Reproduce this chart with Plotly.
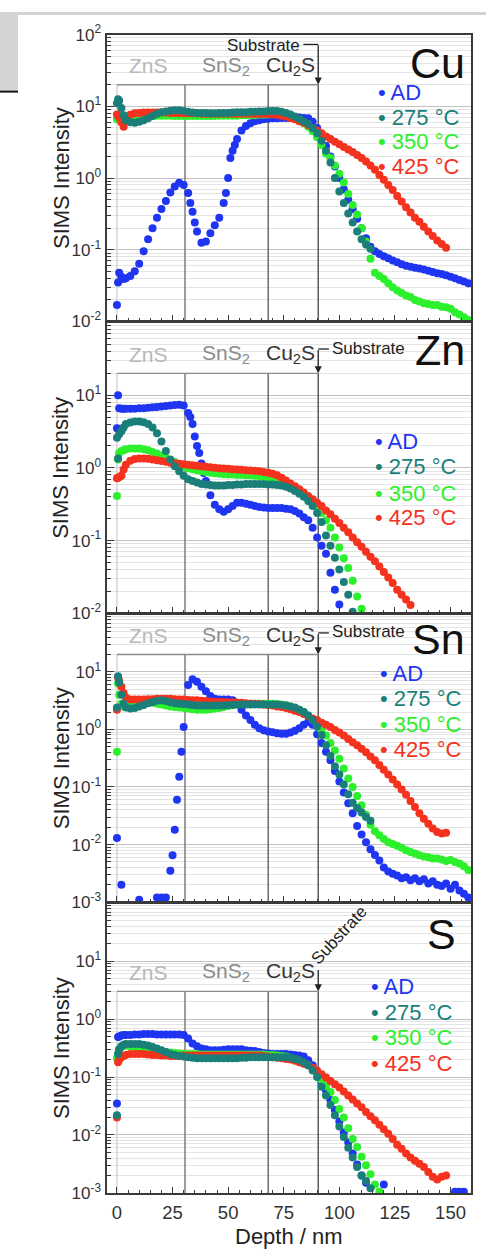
import math
import plotly.graph_objects as go

W, H = 486, 1256
N = None

# ---------------- data ----------------
depth = [0, 0.5, 1, 2, 3, 4,
         6, 8, 10, 12, 14, 16, 18, 20, 22, 24,
         26, 28, 30, 32, 34, 36, 38, 40, 42, 44,
         46, 48, 50, 52, 54, 56, 58, 60, 62, 64,
         66, 68, 70, 72, 74, 76, 78, 80, 82, 84,
         86, 88, 90, 92, 94, 96, 98, 100, 102, 104,
         106, 108, 110, 112, 114, 116, 118, 120, 122, 124,
         126, 128, 130, 132, 134, 136, 138, 140, 142, 144,
         146, 148, 150, 152, 154, 156, 158]

# ---- Cu ----
cu_ad = [0.017, 0.035, 0.048, 0.042, 0.039, 0.040,
         0.043, 0.050, 0.064, 0.095, 0.14, 0.20, 0.28, 0.37, 0.48, 0.63,
         0.76, 0.86, 0.80, 0.62, 0.34, 0.18, 0.125, 0.13, 0.17, 0.22,
         0.28, 0.45, 1.0, 2.4, 3.5, 4.6, 5.3, 5.8, 6.2, 6.4,
         6.6, 6.7, 6.8, 6.8, 6.9, 6.9, 6.9, 6.9, 7.0, 6.9,
         6.8, 6.1, 5.0, 3.8, 2.8, 2.0, 1.45, 1.0, 0.7, 0.5,
         0.37, 0.27, 0.2, 0.145, 0.11, 0.095, 0.087, 0.081, 0.076, 0.071,
         0.067, 0.063, 0.060, 0.058, 0.056, 0.055, 0.053, 0.051, 0.049, 0.047,
         0.046, 0.044, 0.042, 0.040, 0.038, 0.036, 0.034]
cu_ad_extra_depth = [33, 35, 49, 51, 53]
cu_ad_extra = [0.45, 0.24, 0.62, 1.9, 2.9]
cu_275 = [11, 12.5, 12, 9.5, 7.5, 6.4,
          6.0, 5.9, 6.1, 6.4, 6.8, 7.3, 7.9, 8.3, 8.5, 8.7,
          8.8, 8.8, 8.6, 8.4, 8.2, 8.1, 8.1, 8.1, 8.0, 8.0,
          8.1, 8.1, 8.1, 8.2, 8.3, 8.3, 8.3, 8.4, 8.4, 8.5,
          8.5, 8.6, 8.6, 8.6, 8.4, 8.1, 7.7, 7.2, 6.7, 6.2,
          5.7, 5.0, 4.2, 3.3, 2.4, 1.65, 1.0, 0.65, 0.45, 0.32,
          0.24, 0.18, 0.14, 0.118, 0.103, N, N, N, N, N,
          N, N, N, N, N, N, N, N, N, N,
          N, N, N, N, N, N, N]
cu_350 = [6.6, 7.0, 7.2, 7.0, 6.8, 6.8,
          6.9, 7.0, 7.1, 7.2, 7.3, 7.4, 7.4, 7.4, 7.4, 7.4,
          7.3, 7.3, 7.3, 7.3, 7.3, 7.3, 7.3, 7.3, 7.3, 7.3,
          7.4, 7.4, 7.4, 7.4, 7.4, 7.5, 7.5, 7.5, 7.5, 7.6,
          7.6, 7.7, 7.8, 7.8, 7.7, 7.5, 7.2, 6.8, 6.3, 5.8,
          5.2, 4.5, 3.7, 2.9, 2.2, 1.9, 1.5, 1.15, 0.87, 0.6,
          0.42, 0.31, 0.2, 0.13, 0.075, 0.048, 0.043, 0.039, 0.034, 0.030,
          0.027, 0.025, 0.023, 0.022, 0.020, 0.019, 0.018, 0.0175, 0.017, 0.017,
          0.016, 0.0158, 0.015, 0.0135, 0.0125, 0.0115, 0.0105]
cu_425 = [7.7, 7.4, 7.0, 6.0, 5.2, 6.5,
          7.6, 8.0, 8.1, 8.2, 8.2, 8.2, 8.2, 8.2, 8.2, 8.1,
          8.1, 8.1, 8.0, 8.0, 8.0, 8.0, 7.9, 7.9, 7.9, 7.9,
          7.9, 7.9, 7.9, 7.9, 7.9, 7.9, 7.9, 7.9, 7.8, 7.8,
          7.8, 7.8, 7.7, 7.6, 7.4, 7.2, 6.9, 6.6, 6.2, 5.9,
          5.5, 5.0, 4.6, 4.2, 3.8, 3.5, 3.2, 2.95, 2.7, 2.5,
          2.3, 2.1, 1.9, 1.7, 1.5, 1.3, 1.1, 0.95, 0.8, 0.68,
          0.56, 0.47, 0.39, 0.33, 0.28, 0.245, 0.21, 0.18, 0.155, 0.135,
          0.12, 0.107, N, N, N, N, N]

# ---- Zn ----
zn_ad = [3.5, 10, 6.6, 6.5, 6.5, 6.5,
         6.5, 6.5, 6.6, 6.6, 6.7, 6.8, 6.9, 7.0, 7.1, 7.2,
         7.3, 7.4, 7.2, 5.7, 4.0, 2.0, 1.15, 0.66, 0.42, 0.31,
         0.27, 0.25, 0.27, 0.30, 0.33, 0.33, 0.32, 0.31, 0.30, 0.29,
         0.285, 0.28, 0.28, 0.28, 0.28, 0.275, 0.27, 0.255, 0.235, 0.21,
         0.19, 0.15, 0.11, 0.085, 0.066, 0.036, 0.021, 0.0132, N, N,
         N, N, N, N, N, N, N, N, N, N,
         N, N, N, N, N, N, N, N, N, N,
         N, N, N, N, N, N, N]
zn_ad_extra_depth = [33, 35, 37, 39]
zn_ad_extra = [5.0, 2.7, 1.6, 0.85]
zn_275 = [2.6, 1.35, 2.9, 3.2, 3.6, 4.0,
          4.2, 4.35, 4.35, 4.25, 4.0, 3.6, 3.0, 2.3, 1.7, 1.3,
          1.05, 0.9, 0.78, 0.7, 0.66, 0.63, 0.6, 0.59, 0.58, 0.57,
          0.57, 0.57, 0.58, 0.58, 0.59, 0.59, 0.6, 0.6, 0.6, 0.6,
          0.6, 0.59, 0.59, 0.58, 0.57, 0.55, 0.52, 0.48, 0.44, 0.40,
          0.35, 0.30, 0.24, 0.18, 0.117, 0.085, 0.058, 0.04, 0.027, 0.018,
          0.0105, N, N, N, N, N, N, N, N, N,
          N, N, N, N, N, N, N, N, N, N,
          N, N, N, N, N, N, N]
zn_350 = [0.41, 1.3, 1.6, 1.7, 1.75, 1.8,
          1.85, 1.85, 1.85, 1.8, 1.75, 1.65, 1.57, 1.48, 1.38, 1.28,
          1.2, 1.12, 1.04, 0.99, 0.96, 0.93, 0.9, 0.88, 0.86, 0.84,
          0.83, 0.82, 0.81, 0.81, 0.8, 0.8, 0.79, 0.79, 0.78, 0.77,
          0.76, 0.74, 0.72, 0.69, 0.65, 0.6, 0.56, 0.51, 0.46, 0.42,
          0.38, 0.33, 0.28, 0.24, 0.19, 0.15, 0.11, 0.08, 0.057, 0.042,
          0.028, 0.017, 0.0115, N, N, N, N, N, N, N,
          N, N, N, N, N, N, N, N, N, N,
          N, N, N, N, N, N, N]
zn_425 = [0.72, 0.73, 0.75, 0.78, 0.95, 1.1,
          1.25, 1.32, 1.35, 1.35, 1.33, 1.3, 1.27, 1.24, 1.21, 1.18,
          1.16, 1.14, 1.12, 1.1, 1.09, 1.07, 1.05, 1.04, 1.02, 1.0,
          0.99, 0.98, 0.97, 0.96, 0.95, 0.94, 0.93, 0.92, 0.91, 0.9,
          0.88, 0.86, 0.83, 0.79, 0.73, 0.67, 0.61, 0.56, 0.51, 0.46,
          0.41, 0.37, 0.33, 0.3, 0.26, 0.23, 0.2, 0.175, 0.15, 0.13,
          0.11, 0.095, 0.082, 0.07, 0.06, 0.052, 0.044, 0.037, 0.031, 0.026,
          0.021, 0.018, 0.0155, 0.013, N, N, N, N, N, N,
          N, N, N, N, N, N, N]

# ---- Sn ----
sn_ad = [0.013, N, N, 0.002, N, N,
         N, N, 0.0011, N, N, N, 0.0012, 0.0012, 0.0012, 0.0035,
         0.018, 0.15, 1.1, 5.9, 7.4, 6.7, 5.5, 4.6, 3.8, 3.4,
         3.3, 3.3, 3.3, 3.2, 2.9, 2.2, 1.75, 1.45, 1.2, 1.05,
         0.97, 0.92, 0.89, 0.86, 0.84, 0.84, 0.88, 0.95, 1.05, 1.2,
         1.35, 1.2, 0.82, 0.58, 0.41, 0.29, 0.19, 0.125, 0.08, 0.052,
         0.035, 0.021, 0.015, 0.011, 0.0083, 0.0066, 0.0053, 0.004, 0.0034, 0.0031,
         0.0029, 0.0026, 0.0027, 0.0024, 0.0026, 0.0023, 0.0025, 0.0021, 0.0023, 0.002,
         0.0019, 0.0021, 0.0017, 0.002, 0.0016, 0.0014, 0.0012]
sn_ad_extra_depth = [25, 27, 29, 31]
sn_ad_extra = [0.0065, 0.06, 0.41, 3.0]
sn_275 = [2.4, 8.4, 6.5, 4.0, 2.8, 2.4,
          2.3, 2.35, 2.5, 2.65, 2.85, 3.0, 3.15, 3.2, 3.1, 2.95,
          2.85, 2.8, 2.75, 2.7, 2.65, 2.6, 2.6, 2.6, 2.6, 2.6,
          2.6, 2.6, 2.65, 2.65, 2.7, 2.7, 2.7, 2.7, 2.7, 2.7,
          2.7, 2.7, 2.7, 2.7, 2.65, 2.6, 2.5, 2.4, 2.2, 2.0,
          1.75, 1.45, 1.12, 0.8, 0.53, 0.35, 0.23, 0.165, 0.11, 0.075,
          0.053, 0.043, 0.036, 0.03, 0.026, N, N, N, N, N,
          N, N, N, N, N, N, N, N, N, N,
          N, N, N, N, N, N, N]
sn_350 = [0.41, 6.3, 4.0, 2.8, 2.5, 2.5,
          2.5, 2.6, 2.7, 2.8, 2.9, 2.9, 2.8, 2.7, 2.6, 2.5,
          2.45, 2.4, 2.35, 2.3, 2.25, 2.2, 2.2, 2.2, 2.25, 2.3,
          2.35, 2.45, 2.55, 2.65, 2.7, 2.75, 2.8, 2.8, 2.8, 2.8,
          2.8, 2.8, 2.8, 2.75, 2.7, 2.6, 2.5, 2.35, 2.2, 2.0,
          1.75, 1.5, 1.2, 0.95, 0.78, 0.58, 0.43, 0.31, 0.21, 0.14,
          0.1, 0.07, 0.048, 0.033, 0.022, 0.017, 0.0145, 0.0125, 0.011, 0.0102,
          0.0095, 0.0088, 0.008, 0.0074, 0.007, 0.0065, 0.0062, 0.006, 0.0057, 0.0057,
          0.0055, 0.0052, 0.0054, 0.005, 0.0047, 0.0042, 0.0036]
sn_425 = [2.2, 8.0, 7.0, 5.5, 4.3, 3.6,
          3.3, 3.3, 3.3, 3.3, 3.35, 3.35, 3.4, 3.4, 3.4, 3.4,
          3.35, 3.3, 3.3, 3.25, 3.2, 3.2, 3.15, 3.1, 3.05, 3.0,
          3.0, 3.0, 2.95, 2.95, 2.9, 2.9, 2.85, 2.8, 2.8, 2.75,
          2.7, 2.65, 2.6, 2.5, 2.45, 2.35, 2.25, 2.1, 2.0, 1.85,
          1.7, 1.55, 1.45, 1.3, 1.2, 1.1, 0.98, 0.88, 0.78, 0.68,
          0.6, 0.53, 0.46, 0.4, 0.34, 0.29, 0.24, 0.2, 0.165, 0.135,
          0.11, 0.09, 0.073, 0.057, 0.045, 0.035, 0.028, 0.023, 0.019, 0.0165,
          0.0155, 0.016, N, N, N, N, N]

# ---- S ----
s_ad = [0.035, 0.49, 0.5, 0.52, 0.53, 0.53,
        0.53, 0.54, 0.54, 0.55, 0.55, 0.55, 0.54, 0.54, 0.54, 0.54,
        0.54, 0.54, 0.53, 0.46, 0.38, 0.34, 0.31, 0.3, 0.29, 0.29,
        0.29, 0.295, 0.3, 0.3, 0.3, 0.3, 0.29, 0.285, 0.28, 0.27,
        0.26, 0.255, 0.25, 0.25, 0.25, 0.25, 0.245, 0.24, 0.235, 0.225,
        0.195, 0.16, 0.12, 0.083, 0.058, 0.04, 0.027, 0.017, 0.011, 0.0074,
        0.0048, 0.0031, 0.002, 0.0015, N, N, N, 0.0014, N, N,
        N, N, N, N, N, N, N, N, N, N,
        N, N, N, 0.00105, 0.00105, 0.00105, N]
s_275 = [0.022, 0.25, 0.3, 0.34, 0.36, 0.37,
         0.37, 0.37, 0.37, 0.36, 0.35, 0.33, 0.31, 0.29, 0.27, 0.25,
         0.24, 0.23, 0.225, 0.22, 0.215, 0.21, 0.21, 0.21, 0.21, 0.21,
         0.21, 0.21, 0.21, 0.21, 0.21, 0.215, 0.215, 0.22, 0.22, 0.22,
         0.22, 0.22, 0.22, 0.22, 0.22, 0.22, 0.215, 0.205, 0.195, 0.18,
         0.16, 0.13, 0.1, 0.068, 0.048, 0.033, 0.022, 0.014, 0.0092, 0.006,
         0.0041, 0.0028, 0.002, 0.0016, 0.0012, N, N, N, N, N,
         N, N, N, N, N, N, N, N, N, N,
         N, N, N, N, N, N, N]
s_350 = [0.21, 0.25, 0.3, 0.33, 0.35, 0.35,
         0.34, 0.33, 0.32, 0.31, 0.3, 0.29, 0.28, 0.275, 0.27, 0.265,
         0.26, 0.255, 0.25, 0.25, 0.25, 0.25, 0.245, 0.245, 0.245, 0.245,
         0.245, 0.245, 0.245, 0.245, 0.245, 0.245, 0.245, 0.245, 0.245, 0.245,
         0.245, 0.24, 0.24, 0.235, 0.23, 0.225, 0.215, 0.205, 0.19, 0.175,
         0.16, 0.14, 0.12, 0.09, 0.07, 0.055, 0.04, 0.028, 0.02, 0.013,
         0.0085, 0.0062, 0.0042, 0.003, 0.0021, 0.0014, 0.00105, N, N, N,
         N, N, N, N, N, N, N, N, N, N,
         N, N, N, N, N, N, N]
s_425 = [0.02, 0.18, 0.2, 0.22, 0.23, 0.24,
         0.25, 0.25, 0.25, 0.25, 0.245, 0.24, 0.24, 0.235, 0.235, 0.23,
         0.23, 0.23, 0.235, 0.235, 0.235, 0.235, 0.235, 0.235, 0.235, 0.235,
         0.235, 0.235, 0.235, 0.235, 0.235, 0.235, 0.235, 0.235, 0.235, 0.235,
         0.23, 0.225, 0.22, 0.215, 0.21, 0.205, 0.2, 0.19, 0.18, 0.17,
         0.16, 0.145, 0.13, 0.112, 0.098, 0.085, 0.075, 0.066, 0.056, 0.048,
         0.041, 0.035, 0.03, 0.025, 0.021, 0.018, 0.015, 0.0125, 0.0105, 0.0085,
         0.0068, 0.0058, 0.0048, 0.0041, 0.0036, 0.0032, 0.0028, 0.0023, 0.0019, 0.0017,
         0.0019, 0.002, N, N, N, N, N]

series_names = ["AD", "275 °C", "350 °C", "425 °C"]
series_colors = ["#1f35f2", "#197f78", "#2cf02c", "#f4321e"]
draw_order = [0, 2, 3, 1]

layer_names = ["ZnS", "SnS<sub>2</sub>", "Cu<sub>2</sub>S"]
layer_label_x = [14, 49, 78]
layer_label_colors = ["#b8b8b8", "#8c8c8c", "#333333"]
layer_bounds = [0, 30.6, 68, 90.5]
bound_colors = ["#cfcfcf", "#6a6a6a", "#555555", "#444444"]

x_ticks = [0, 25, 50, 75, 100, 125, 150]
x_range = [-4.7, 159.2]

panels = [
    dict(el="Cu", series=[cu_ad, cu_275, cu_350, cu_425],
         extra=(cu_ad_extra_depth, cu_ad_extra), yr=(-2, 2), lab=(-2, 2), box=20,
         top=23, bot=315, el_y=52, el_x=467,
         leg_x=376, leg_y=[82, 107, 132, 157], arrow_tail=33, sub_style="left"),
    dict(el="Zn", series=[zn_ad, zn_275, zn_350, zn_425],
         extra=(zn_ad_extra_depth, zn_ad_extra), yr=(-2, 2), lab=(-2, 1), box=20,
         top=316, bot=612, el_y=344, el_x=467,
         leg_x=373, leg_y=[437, 463, 490, 515], arrow_tail=343, sub_style="right"),
    dict(el="Sn", series=[sn_ad, sn_275, sn_350, sn_425],
         extra=(sn_ad_extra_depth, sn_ad_extra), yr=(-3, 2), lab=(-3, 1), box=20,
         top=613, bot=906, el_y=638, el_x=467,
         leg_x=378, leg_y=[673, 699, 725, 751], arrow_tail=632, sub_style="right"),
    dict(el="S", series=[s_ad, s_275, s_350, s_425],
         extra=None, yr=(-3, 2), lab=(-3, 1), box=3,
         top=907, bot=1202, el_y=938, el_x=458,
         leg_x=369, leg_y=[992, 1018, 1044, 1070], arrow_tail=974, sub_style="rot"),
]

for p in panels:
    for s in p["series"]:
        assert len(s) == len(depth), (p["el"], len(s))

FONT = "Liberation Sans, Arial, Helvetica, sans-serif"
AXC = "#3a3a3a"


def fy(px):
    return 1 - px / H


def fx(px):
    return px / W


X_DOM = [fx(106.5), fx(471)]

fig = go.Figure()
annotations = []
shapes = []
layout_axes = {}

for i, p in enumerate(panels, start=1):
    xa = "x" if i == 1 else f"x{i}"
    ya = "y" if i == 1 else f"y{i}"
    lo = 10.0 ** p["yr"][0]

    # layer boxes
    for b, c in zip(layer_bounds, bound_colors):
        fig.add_trace(go.Scatter(x=[b, b], y=[lo, p["box"]], mode="lines",
                                 line=dict(color=c, width=1.3),
                                 xaxis=xa, yaxis=ya, showlegend=False, hoverinfo="skip"))
    fig.add_trace(go.Scatter(x=[layer_bounds[0], layer_bounds[-1]], y=[p["box"], p["box"]],
                             mode="lines", line=dict(color="#8a8a8a", width=1.3),
                             xaxis=xa, yaxis=ya, showlegend=False, hoverinfo="skip"))

    # data
    for k in draw_order:
        xs = list(depth)
        ys = list(p["series"][k])
        if k == 0 and p["extra"] is not None:
            xs += p["extra"][0]
            ys += p["extra"][1]
        fig.add_trace(go.Scatter(x=xs, y=ys, mode="markers",
                                 marker=dict(size=8, color=series_colors[k], line=dict(width=0)),
                                 name=series_names[k], xaxis=xa, yaxis=ya,
                                 showlegend=False, hoverinfo="skip"))

    # axes
    minor_vals = [m * 10.0 ** e for e in range(p["yr"][0], p["yr"][1]) for m in range(2, 10)]
    exps = list(range(p["lab"][0], p["lab"][1] + 1))
    layout_axes["xaxis" if i == 1 else f"xaxis{i}"] = dict(
        domain=X_DOM, range=x_range, anchor=ya, showgrid=False, zeroline=False,
        showline=True, mirror=True, linecolor=AXC, linewidth=2,
        ticks="inside", ticklen=6, tickwidth=1.3, tickcolor=AXC,
        tickmode="array", tickvals=x_ticks, ticktext=[str(v) for v in x_ticks],
        showticklabels=(i == 4), ticklabelstandoff=2,
        tickfont=dict(family=FONT, size=18.5, color="#333"),
        minor=dict(ticks="inside", ticklen=3, tickwidth=1.1, tickcolor=AXC,
                   dtick=5, tick0=0, showgrid=False))
    layout_axes["yaxis" if i == 1 else f"yaxis{i}"] = dict(
        domain=[fy(p["bot"]), fy(p["top"])], type="log", range=list(p["yr"]),
        anchor=xa, showgrid=True, gridcolor="#c2c2c2", gridwidth=1, zeroline=False,
        showline=True, mirror=True, linecolor=AXC, linewidth=2,
        ticks="inside", ticklen=7, tickwidth=1.3, tickcolor=AXC,
        tickmode="array", tickvals=[10.0 ** e for e in exps],
        ticktext=[f"10<sup>{e}</sup>" for e in exps],
        tickfont=dict(family=FONT, size=17, color="#333"),
        minor=dict(tickmode="array", tickvals=minor_vals, ticks="inside", ticklen=4,
                   tickwidth=1, tickcolor=AXC, showgrid=True, gridcolor="#e4e4e4",
                   gridwidth=1))

    # y title
    annotations.append(dict(text="SIMS Intensity", textangle=-90, showarrow=False,
                            xref="paper", yref="paper", x=fx(61), y=fy((p["top"] + p["bot"]) / 2),
                            xanchor="center", yanchor="middle",
                            font=dict(family=FONT, size=22, color="#222")))
    # element label
    annotations.append(dict(text=p["el"], showarrow=False, xref="paper", yref="paper",
                            x=fx(p["el_x"]), y=fy(p["el_y"]), xanchor="right", yanchor="middle",
                            font=dict(family=FONT, size=43, color="#111")))
    # legend
    for k in range(4):
        annotations.append(dict(text="• " + series_names[k], showarrow=False,
                                xref="paper", yref="paper", x=fx(p["leg_x"]), y=fy(p["leg_y"][k]),
                                xanchor="left", yanchor="middle",
                                font=dict(family=FONT, size=22, color=series_colors[k])))
    # layer labels
    for name, lx, lc in zip(layer_names, layer_label_x, layer_label_colors):
        annotations.append(dict(text=name, showarrow=False, xref=xa, yref=ya,
                                x=lx, y=math.log10(p["box"]), xanchor="center", yanchor="middle",
                                yshift=19, font=dict(family=FONT, size=21, color=lc)))
    # substrate arrow
    tip_px = p["top"] + (p["yr"][1] - math.log10(p["box"])) * (p["bot"] - p["top"]) / (p["yr"][1] - p["yr"][0])
    annotations.append(dict(text="", showarrow=True, xref=xa, yref=ya,
                            x=layer_bounds[-1], y=math.log10(p["box"]),
                            ax=0, ay=-(tip_px - p["arrow_tail"]), arrowhead=2, arrowsize=1.1,
                            arrowwidth=1.3, arrowcolor="#222", standoff=0))
    ty = p["arrow_tail"]
    if p["sub_style"] == "left":
        shapes.append(dict(type="line", xref=xa, yref="paper", x0=83.8, x1=layer_bounds[-1],
                           y0=fy(ty), y1=fy(ty), line=dict(color="#222", width=1.3)))
        annotations.append(dict(text="Substrate", showarrow=False, xref=xa, yref="paper",
                                x=83.4, y=fy(ty + 1), xanchor="right", yanchor="middle",
                                font=dict(family=FONT, size=17, color="#222")))
    elif p["sub_style"] == "right":
        shapes.append(dict(type="line", xref=xa, yref="paper", x0=layer_bounds[-1], x1=95.3,
                           y0=fy(ty), y1=fy(ty), line=dict(color="#222", width=1.3)))
        annotations.append(dict(text="Substrate", showarrow=False, xref=xa, yref="paper",
                                x=96.0, y=fy(ty - 1), xanchor="left", yanchor="middle",
                                font=dict(family=FONT, size=17, color="#222")))
    else:
        annotations.append(dict(text="Substrate", showarrow=False, xref="paper", yref="paper",
                                x=fx(339), y=fy(940), xanchor="center", yanchor="middle",
                                textangle=-47, font=dict(family=FONT, size=17, color="#222")))

# x title
annotations.append(dict(text="Depth / nm", showarrow=False, xref="paper", yref="paper",
                        x=(X_DOM[0] + X_DOM[1]) / 2, y=fy(1246), xanchor="center", yanchor="middle",
                        font=dict(family=FONT, size=22, color="#222")))

# page decoration at the top-left
shapes.append(dict(type="rect", xref="paper", yref="paper", x0=0, x1=1, y0=fy(3), y1=1,
                   fillcolor="#d4d4d4", line=dict(width=0), layer="below"))
shapes.append(dict(type="rect", xref="paper", yref="paper", x0=0, x1=fx(18), y0=fy(80), y1=1,
                   fillcolor="#d4d4d4", line=dict(width=0), layer="below"))
shapes.append(dict(type="line", xref="paper", yref="paper", x0=0, x1=fx(18), y0=fy(81), y1=fy(81),
                   line=dict(color="#111", width=2)))

fig.update_layout(
    width=W, height=H, margin=dict(l=0, r=0, t=0, b=0),
    paper_bgcolor="white", plot_bgcolor="white",
    font=dict(family=FONT, color="#222"),
    showlegend=False, annotations=annotations, shapes=shapes,
    **layout_axes,
)

fig.write_html("out.html")
